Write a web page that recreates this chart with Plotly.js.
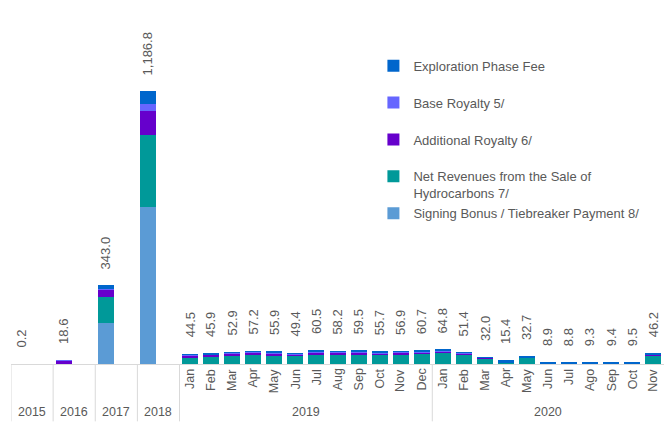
<!DOCTYPE html>
<html>
<head>
<meta charset="utf-8">
<script src="https://cdn.plot.ly/plotly-3.0.1.min.js"></script>
<style>html,body{margin:0;padding:0;background:#fff;}#chart{width:671px;height:424px;}</style>
</head>
<body>
<div id="chart"></div>
<script>
// ---- data ----
const annualLabels = ['2015', '2016', '2017', '2018'];
const months2019 = ['Jan', 'Feb', 'Mar', 'Apr', 'May', 'Jun', 'Jul', 'Aug', 'Sep', 'Oct', 'Nov', 'Dec'];
const months2020 = ['Jan', 'Feb', 'Mar', 'Apr', 'May', 'Jun', 'Jul', 'Ago', 'Sep', 'Oct', 'Nov'];
const monthGroups = ['2019', '2020'];

const totals = [0.2, 18.6, 343.0, 1186.8,
  44.5, 45.9, 52.9, 57.2, 55.9, 49.4, 60.5, 58.2, 59.5, 55.7, 56.9, 60.7,
  64.8, 51.4, 32.0, 15.4, 32.7, 8.9, 8.8, 9.3, 9.4, 9.5, 46.2];

const signingBonus = [0, 0, 180, 682,
  0, 0, 0, 0, 0, 0, 0, 0, 0, 0, 0, 0,
  0, 0, 0, 0, 0, 0, 0, 0, 0, 0, 0];
const netRevenues = [0, 0, 113, 313,
  28, 30, 34, 37, 36, 33, 40, 39, 40, 38, 39, 44,
  48, 37, 22, 3, 24, 0, 0, 0, 0, 0, 36];
const additionalRoyalty = [0, 15, 30, 104,
  7, 7, 8, 9, 9, 6, 9, 8, 8, 7, 7, 6,
  6, 5, 2, 0.5, 1, 0, 0, 0, 0, 0, 1];
const baseRoyalty = [0, 2.5, 4, 33,
  4, 4, 5, 5, 5, 4, 5, 5, 5, 4, 5, 4,
  4, 4, 3, 2, 2, 0, 0, 0, 0, 0, 3];
const explorationFee = [0.2, 1.1, 16, 54.8,
  5.5, 4.9, 5.9, 6.2, 5.9, 6.4, 6.5, 6.2, 6.5, 6.7, 5.9, 6.7,
  6.8, 5.4, 5.0, 9.9, 5.7, 8.9, 8.8, 9.3, 9.4, 9.5, 6.2];

const seriesNames = [
  'Signing Bonus / Tiebreaker Payment 8/',
  'Net Revenues from the Sale of<br>Hydrocarbons 7/',
  'Additional Royalty 6/',
  'Base Royalty 5/',
  'Exploration Phase Fee'
];
const seriesValues = [signingBonus, netRevenues, additionalRoyalty, baseRoyalty, explorationFee];
const seriesColors = ['#5B9BD5', '#009999', '#6600CC', '#6666FF', '#0066CC'];
const legendGroups = ['a', 'a', 'b', 'c', 'd'];

// ---- slots: years take 2 slots (bar in the first), months 1 slot ----
const YEAR_SLOTS = 2;
const xs = [];
annualLabels.forEach((y, i) => { xs.push(i * YEAR_SLOTS + 0.5); });
const monthStart = annualLabels.length * YEAR_SLOTS;
const allMonths = months2019.concat(months2020);
allMonths.forEach((m, j) => { xs.push(monthStart + j + 0.5); });
const nSlots = monthStart + allMonths.length;

const textColor = '#595959';
const font = 'Liberation Sans, Arial, sans-serif';
const gridColor = '#D9D9D9';

const traces = seriesValues.map((vals, k) => ({
  type: 'bar',
  x: xs,
  y: vals,
  name: seriesNames[k],
  legendgroup: legendGroups[k],
  legendrank: seriesValues.length - k,
  width: 0.76,
  marker: {color: seriesColors[k], line: {width: 0}},
  hoverinfo: 'skip'
}));

const annotations = [];
const fmt = v => v.toLocaleString('en-US', {minimumFractionDigits: 1, maximumFractionDigits: 1});
totals.forEach((t, i) => {
  annotations.push({
    x: xs[i], y: t, xref: 'x', yref: 'y', text: fmt(t), showarrow: false,
    textangle: -90, xanchor: 'center', yanchor: 'bottom', yshift: 14,
    font: {family: font, size: 13, color: textColor}
  });
});
annualLabels.forEach((y, i) => {
  annotations.push({
    x: i * YEAR_SLOTS + YEAR_SLOTS / 2, y: -0.136, xref: 'x', yref: 'paper', text: y, showarrow: false,
    xanchor: 'center', yanchor: 'middle', font: {family: font, size: 12.5, color: textColor}
  });
});
allMonths.forEach((m, j) => {
  annotations.push({
    x: monthStart + j + 0.5, y: -0.008, xref: 'x', yref: 'paper', text: m, showarrow: false,
    textangle: -90, xanchor: 'center', yanchor: 'top', font: {family: font, size: 12.5, color: textColor}
  });
});
const groupSizes = [months2019.length, months2020.length];
let gStart = monthStart;
const dividers = [];
for (let i = 0; i <= annualLabels.length; i++) dividers.push(i * YEAR_SLOTS);
monthGroups.forEach((g, i) => {
  annotations.push({
    x: gStart + groupSizes[i] / 2, y: -0.136, xref: 'x', yref: 'paper', text: g, showarrow: false,
    xanchor: 'center', yanchor: 'middle', font: {family: font, size: 12.5, color: textColor}
  });
  gStart += groupSizes[i];
  if (i < monthGroups.length - 1) dividers.push(gStart);
});

const shapes = dividers.map(d => ({
  type: 'line', xref: 'x', yref: 'paper', x0: d, x1: d, y0: 0, y1: -0.162,
  line: {color: gridColor, width: 1}
}));

const layout = {
  width: 671, height: 424,
  margin: {l: 11, r: 7, t: 10, b: 60},
  paper_bgcolor: '#ffffff', plot_bgcolor: '#ffffff',
  barmode: 'stack',
  bargap: 0,
  font: {family: font, size: 12, color: textColor},
  xaxis: {
    type: 'linear', range: [0, nSlots], showgrid: false, zeroline: false,
    showticklabels: false, ticks: '', showline: true, linecolor: gridColor, linewidth: 1,
    fixedrange: true
  },
  yaxis: {range: [0, 1539], visible: false, fixedrange: true},
  showlegend: true,
  legend: {
    x: 0.555, xanchor: 'left', y: 0.885, yanchor: 'top',
    traceorder: 'grouped', tracegroupgap: 17, valign: 'top',
    font: {family: font, size: 13, color: textColor},
    bgcolor: 'rgba(0,0,0,0)', itemclick: false, itemdoubleclick: false
  },
  annotations: annotations,
  shapes: shapes
};

Plotly.newPlot('chart', traces, layout, {displayModeBar: false, staticPlot: true});
</script>
</body>
</html>
